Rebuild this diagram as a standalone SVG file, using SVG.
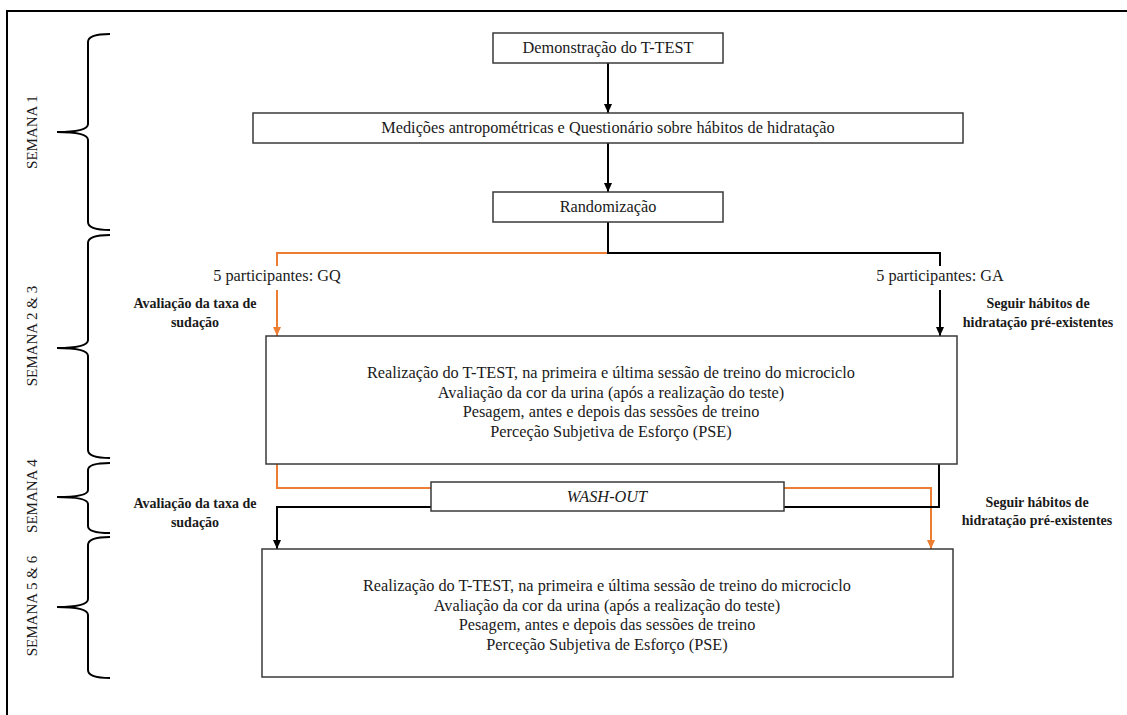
<svg xmlns="http://www.w3.org/2000/svg" width="1127" height="715" viewBox="0 0 1127 715">
  <style>
    .box { fill: #ffffff; stroke: #3a3a3a; stroke-width: 1.5; }
    .t { font-family: "Liberation Serif", "Times New Roman", serif; font-size: 16.3px; fill: #1a1a1a; text-anchor: middle; }
    .b { font-family: "Liberation Serif", "Times New Roman", serif; font-size: 14px; font-weight: bold; fill: #1a1a1a; text-anchor: middle; }
    .wk { font-family: "Liberation Serif", "Times New Roman", serif; font-size: 15px; fill: #1a1a1a; text-anchor: middle; }
    .brace { fill: none; stroke: #000000; stroke-width: 2; }
    .blk { fill: none; stroke: #000000; stroke-width: 2; }
    .org { fill: none; stroke: #ED7D31; stroke-width: 2; }
  </style>
  <defs>
    <marker id="ab" markerWidth="9" markerHeight="8" refX="9" refY="4" orient="auto" markerUnits="userSpaceOnUse" viewBox="0 0 9 8">
      <path d="M0,0 L9,4 L0,8 Z" fill="#000000"/>
    </marker>
    <marker id="ao" markerWidth="9" markerHeight="8" refX="9" refY="4" orient="auto" markerUnits="userSpaceOnUse" viewBox="0 0 9 8">
      <path d="M0,0 L9,4 L0,8 Z" fill="#ED7D31"/>
    </marker>
  </defs>

  <rect x="0" y="0" width="1127" height="715" fill="#ffffff"/>
  <!-- outer frame (only top and left visible) -->
  <path d="M7,730 L7,11 L1140,11" fill="none" stroke="#000000" stroke-width="2"/>

  <!-- week braces and labels -->
  <g id="weeks">
    <path class="brace" d="M110,34 Q88,34 88,42 L88,124 Q88,132 57,132 Q88,132 88,140 L88,222 Q88,230 110,230"/>
    <path class="brace" d="M110,235 Q88,235 88,243 L88,340 Q88,348 57,348 Q88,348 88,356 L88,450 Q88,458 110,458"/>
    <path class="brace" d="M110,463 Q88,463 88,470 L88,490 Q88,497 57,497 Q88,497 88,504 L88,526 Q88,533 110,533"/>
    <path class="brace" d="M110,537 Q88,537 88,545 L88,599 Q88,607 57,607 Q88,607 88,615 L88,670 Q88,678 110,678"/>
    <text class="wk" x="37" y="132" transform="rotate(-90 37 132)">SEMANA 1</text>
    <text class="wk" x="37" y="336" transform="rotate(-90 37 336)">SEMANA 2 &amp; 3</text>
    <text class="wk" x="37" y="496" transform="rotate(-90 37 496)">SEMANA 4</text>
    <text class="wk" x="37" y="606" transform="rotate(-90 37 606)">SEMANA 5 &amp; 6</text>
  </g>

  <!-- connectors -->
  <g id="connectors">
    <line class="blk" x1="608" y1="63" x2="608" y2="113" marker-end="url(#ab)"/>
    <line class="blk" x1="608" y1="143" x2="608" y2="192" marker-end="url(#ab)"/>
    <polyline class="org" points="608,253 277,253 277,266"/>
    <polyline class="blk" points="608,222 608,253 940,253 940,266"/>
    <line class="org" x1="277" y1="290" x2="277" y2="336" marker-end="url(#ao)"/>
    <line class="blk" x1="940" y1="290" x2="940" y2="336" marker-end="url(#ab)"/>
    <polyline class="org" points="277,464 277,488 431,488"/>
    <polyline class="org" points="784,488 931,488 931,549" marker-end="url(#ao)"/>
    <polyline class="blk" points="939,464 939,507 784,507"/>
    <polyline class="blk" points="431,507 277,507 277,549" marker-end="url(#ab)"/>
  </g>

  <g id="n-demo">
    <rect class="box" x="493" y="33" width="230" height="30"/>
    <text class="t" x="608" y="53">Demonstração do T-TEST</text>
  </g>
  <g id="n-medicoes">
    <rect class="box" x="253" y="113" width="710" height="30"/>
    <text class="t" x="608" y="133">Medições antropométricas e Questionário sobre hábitos de hidratação</text>
  </g>
  <g id="n-random">
    <rect class="box" x="493" y="192" width="230" height="30"/>
    <text class="t" x="608" y="212">Randomização</text>
  </g>

  <g id="n-gq">
    <text class="t" x="277" y="281">5 participantes: GQ</text>
  </g>
  <g id="n-ga">
    <text class="t" x="940" y="281">5 participantes: GA</text>
  </g>

  <g id="n-lbl-left1">
    <text class="b" x="195" y="308">Avaliação da taxa de</text>
    <text class="b" x="195" y="327">sudação</text>
  </g>
  <g id="n-lbl-right1">
    <text class="b" x="1038" y="308">Seguir hábitos de</text>
    <text class="b" x="1038" y="327">hidratação pré-existentes</text>
  </g>

  <g id="n-fase1">
    <rect class="box" x="266" y="336" width="691" height="128"/>
    <text class="t" x="611" y="378">Realização do T-TEST, na primeira e última sessão de treino do microciclo</text>
    <text class="t" x="611" y="397.5">Avaliação da cor da urina (após a realização do teste)</text>
    <text class="t" x="611" y="417">Pesagem, antes e depois das sessões de treino</text>
    <text class="t" x="611" y="436.5">Perceção Subjetiva de Esforço (PSE)</text>
  </g>

  <g id="n-washout">
    <rect class="box" x="431" y="482" width="353" height="29"/>
    <text class="t" x="607" y="502" font-style="italic">WASH-OUT</text>
  </g>

  <g id="n-lbl-left2">
    <text class="b" x="195" y="508">Avaliação da taxa de</text>
    <text class="b" x="195" y="527">sudação</text>
  </g>
  <g id="n-lbl-right2">
    <text class="b" x="1037" y="507">Seguir hábitos de</text>
    <text class="b" x="1037" y="525">hidratação pré-existentes</text>
  </g>

  <g id="n-fase2">
    <rect class="box" x="262" y="549" width="691" height="128"/>
    <text class="t" x="607" y="591">Realização do T-TEST, na primeira e última sessão de treino do microciclo</text>
    <text class="t" x="607" y="610.5">Avaliação da cor da urina (após a realização do teste)</text>
    <text class="t" x="607" y="630">Pesagem, antes e depois das sessões de treino</text>
    <text class="t" x="607" y="649.5">Perceção Subjetiva de Esforço (PSE)</text>
  </g>
</svg>
